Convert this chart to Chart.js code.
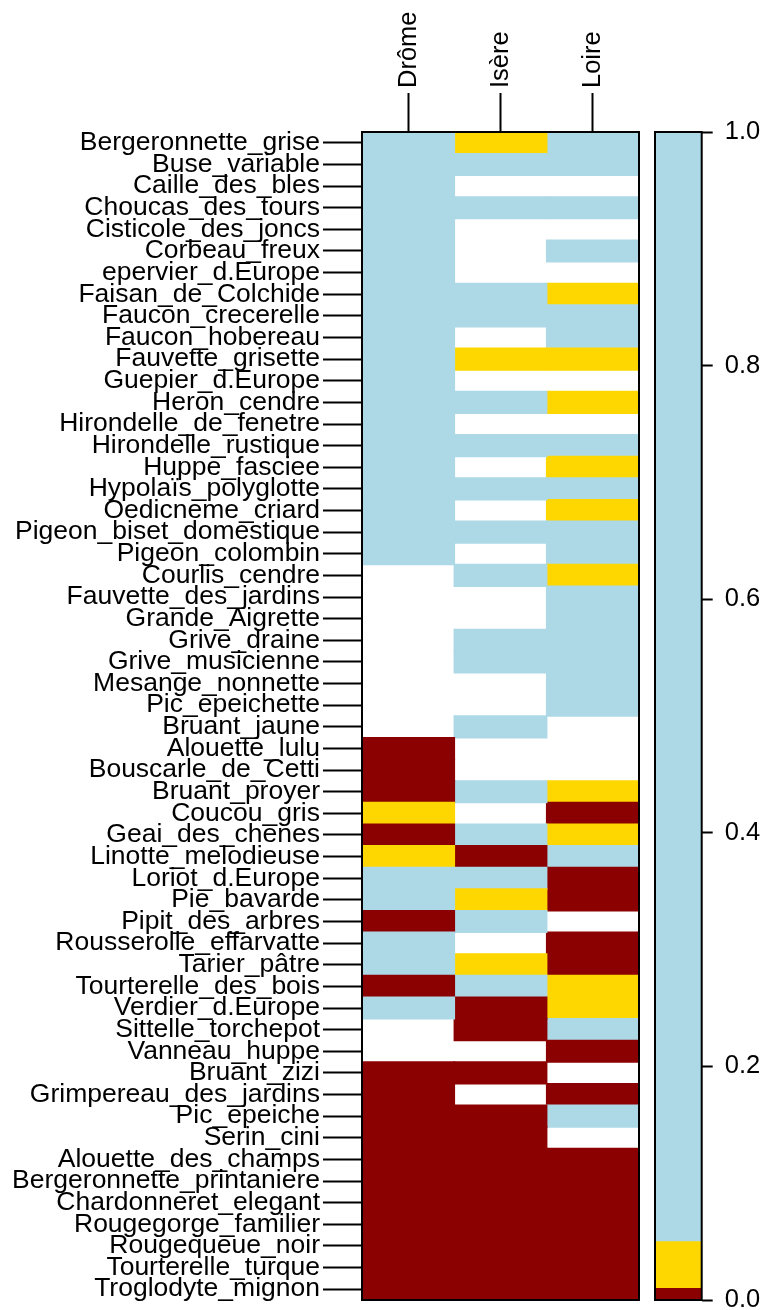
<!DOCTYPE html>
<html>
<head>
<meta charset="utf-8">
<script src="https://cdn.jsdelivr.net/npm/chart.js@4.4.1/dist/chart.umd.min.js"></script>
<style>
  html, body { margin: 0; padding: 0; background: #fff; overflow: hidden; width: 765px; height: 1310px; }
  #heat { position: absolute; left: 0; top: 0; }
  #key { position: absolute; left: 645px; top: 0; }
</style>
</head>
<body>
<canvas id="heat" width="645" height="1340"></canvas>
<canvas id="key" width="120" height="1340"></canvas>
<script>
// Species (rows, top to bottom)
const species = [
  'Bergeronnette_grise', 'Buse_variable', 'Caille_des_bles', 'Choucas_des_tours',
  'Cisticole_des_joncs', 'Corbeau_freux', 'epervier_d.Europe', 'Faisan_de_Colchide',
  'Faucon_crecerelle', 'Faucon_hobereau', 'Fauvette_grisette', 'Guepier_d.Europe',
  'Heron_cendre', 'Hirondelle_de_fenetre', 'Hirondelle_rustique', 'Huppe_fasciee',
  'Hypolaïs_polyglotte', 'Oedicneme_criard', 'Pigeon_biset_domestique', 'Pigeon_colombin',
  'Courlis_cendre', 'Fauvette_des_jardins', 'Grande_Aigrette', 'Grive_draine',
  'Grive_musicienne', 'Mesange_nonnette', 'Pic_epeichette', 'Bruant_jaune',
  'Alouette_lulu', 'Bouscarle_de_Cetti', 'Bruant_proyer', 'Coucou_gris',
  'Geai_des_chenes', 'Linotte_melodieuse', 'Loriot_d.Europe', 'Pie_bavarde',
  'Pipit_des_arbres', 'Rousserolle_effarvatte', 'Tarier_pâtre', 'Tourterelle_des_bois',
  'Verdier_d.Europe', 'Sittelle_torchepot', 'Vanneau_huppe', 'Bruant_zizi',
  'Grimpereau_des_jardins', 'Pic_epeiche', 'Serin_cini', 'Alouette_des_champs',
  'Bergeronnette_printaniere', 'Chardonneret_elegant', 'Rougegorge_familier',
  'Rougequeue_noir', 'Tourterelle_turque', 'Troglodyte_mignon'
];

// Regions (columns)
const regions = ['Drôme', 'Isère', 'Loire'];

// p-value class of each cell: 0 = p < 0.01, 1 = 0.01 – 0.05, 2 = p > 0.05, null = no data
const _ = null;
const drome = [
  2, 2, 2, 2, 2, 2, 2, 2, 2, 2,
  2, 2, 2, 2, 2, 2, 2, 2, 2, 2,
  _, _, _, _, _, _, _, _, 0, 0,
  0, 1, 0, 1, 2, 2, 0, 2, 2, 0,
  2, _, _, 0, 0, 0, 0, 0, 0, 0,
  0, 0, 0, 0
];
const isere = [
  1, 2, _, 2, _, _, _, 2, 2, _,
  1, _, 2, _, 2, _, 2, _, 2, _,
  2, _, _, 2, 2, _, _, 2, _, _,
  2, _, 2, 0, 2, 1, 2, _, 1, 2,
  0, 0, _, 0, _, 0, 0, 0, 0, 0,
  0, 0, 0, 0
];
const loire = [
  2, 2, _, 2, _, 2, _, 1, 2, 2,
  1, _, 1, _, 2, 1, 2, 1, 2, 2,
  1, 2, 2, 2, 2, 2, 2, _, _, _,
  1, 0, 1, 2, 0, 0, _, 0, 0, 1,
  1, 2, 0, _, 0, 2, _, 0, 0, 0,
  0, 0, 0, 0
];

// Colour key: class boundaries and fills
const classBreaks = [0, 0.01, 0.05, 1];
const classColours = ['#8B0000', '#FFD700', '#ADD8E6'];
const keyTicks = [0, 0.2, 0.4, 0.6, 0.8, 1.0];

const FONT = 'Liberation Sans, Arial, Helvetica, sans-serif';

// Black frame around the plotting area
const frame = {
  id: 'frame',
  afterDatasetsDraw(chart) {
    const { ctx, chartArea: a } = chart;
    ctx.save();
    ctx.strokeStyle = '#000';
    ctx.lineWidth = 2;
    ctx.strokeRect(a.left, a.top, a.right - a.left, a.bottom - a.top);
    ctx.restore();
  }
};

const columns = [drome, isere, loire];
const heatSets = columns.map((col, j) => ({
  label: regions[j],
  data: col.map(c => (c === null ? null : [j, j + 1])),
  backgroundColor: col.map(c => (c === null ? 'rgba(0,0,0,0)' : classColours[c])),
  borderWidth: 0,
  inflateAmount: 0.75,
  barPercentage: 1,
  categoryPercentage: 1,
  grouped: false
}));

new Chart(document.getElementById('heat'), {
  type: 'bar',
  data: { labels: species, datasets: heatSets },
  options: {
    indexAxis: 'y',
    responsive: false,
    animation: false,
    devicePixelRatio: 1,
    layout: { padding: { left: 0, top: 0, right: 6, bottom: 40 } },
    plugins: { legend: { display: false }, tooltip: { enabled: false } },
    scales: {
      x: {
        type: 'linear',
        position: 'top',
        min: 0,
        max: regions.length,
        afterBuildTicks: s => { s.ticks = regions.map((r, i) => ({ value: i + 0.5 })); },
        afterFit: s => { s.height = 132; },
        ticks: {
          autoSkip: false, minRotation: 90, maxRotation: 90, padding: 5, labelOffset: 31,
          color: '#000', font: { family: FONT, size: 25.5 },
          callback: (v, i) => regions[i]
        },
        grid: { drawOnChartArea: false, tickLength: 39, tickWidth: 2, tickColor: '#000', offset: false },
        border: { display: false }
      },
      y: {
        type: 'category',
        position: 'left',
        afterFit: s => { s.width = 362; },
        ticks: { autoSkip: false, padding: 3, color: '#000', font: { family: FONT, size: 26.5 } },
        grid: { drawOnChartArea: false, tickLength: 39, tickWidth: 2, tickColor: '#000', offset: false },
        border: { display: false }
      }
    }
  },
  plugins: [frame]
});

new Chart(document.getElementById('key'), {
  type: 'bar',
  data: {
    labels: [''],
    datasets: classColours.map((c, k) => ({
      data: [[classBreaks[k], classBreaks[k + 1]]],
      backgroundColor: c,
      borderWidth: 0,
      barPercentage: 1,
      categoryPercentage: 1,
      grouped: false
    }))
  },
  options: {
    responsive: false,
    animation: false,
    devicePixelRatio: 1,
    layout: { padding: { left: 10, top: 132, right: 0, bottom: 40 } },
    plugins: { legend: { display: false }, tooltip: { enabled: false } },
    scales: {
      x: { display: false },
      y: {
        position: 'right',
        min: 0,
        max: 1,
        afterBuildTicks: s => { s.ticks = keyTicks.map(v => ({ value: v })); },
        afterFit: s => { s.width = 63.3; },
        ticks: { padding: 12, color: '#000', font: { family: FONT, size: 25.5 }, callback: v => v.toFixed(1) },
        grid: { drawOnChartArea: false, tickLength: 11, tickWidth: 2, tickColor: '#000' },
        border: { display: false }
      }
    }
  },
  plugins: [frame]
});
</script>
</body>
</html>
